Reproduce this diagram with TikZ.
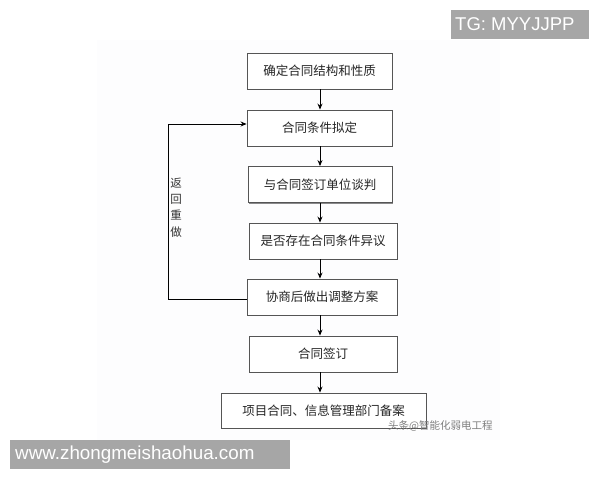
\documentclass[tikz,border=0pt]{standalone}
\usepackage{fontspec}
\setmainfont{Liberation Sans}
\newfontfamily\cjk{Noto Sans CJK SC}
\usetikzlibrary{shadows,arrows.meta}
\definecolor{bordergray}{HTML}{555555}
\definecolor{tagbg}{HTML}{A6A6A6}
\definecolor{faint}{HTML}{FDFDFE}
\tikzset{
  flowbox/.style={draw=bordergray, line width=0.9pt, fill=white, minimum height=36pt,
    inner sep=0pt, font=\cjk\fontsize{12.5}{14}\selectfont, text=black!85,
    drop shadow={shadow xshift=1.3pt, shadow yshift=-1.3pt, opacity=0.45, fill=black}},
  arr/.style={line width=0.8pt, -{Stealth[length=6pt,width=5pt]}},
  tag/.style={fill=tagbg, text=white, inner sep=0pt, anchor=north west},
}
\begin{document}
\begin{tikzpicture}[x=1pt,y=-1pt]
\useasboundingbox (0,0) rectangle (600,480);
\fill[faint] (97,40) rectangle (500,440);
\node[flowbox, minimum width=145pt] (b1) at (319.5,71) {确定合同结构和性质};
\node[flowbox, minimum width=145pt] (b2) at (319.5,128) {合同条件拟定};
\node[flowbox, minimum width=144pt] (b3) at (320,184.5) {与合同签订单位谈判};
\node[flowbox, minimum width=148pt] (b4) at (323,241) {是否存在合同条件异议};
\node[flowbox, minimum width=150pt] (b5) at (322,297) {协商后做出调整方案};
\node[flowbox, minimum width=148pt] (b6) at (323,354) {合同签订};
\node[flowbox, minimum width=205pt, minimum height=35pt] (b7) at (323.5,410.5) {项目合同、信息管理部门备案};
\coordinate (ax) at (320,0);
\draw[arr] (b1.south -| ax) -- (b2.north -| ax);
\draw[arr] (b2.south -| ax) -- (b3.north -| ax);
\draw[arr] (b3.south -| ax) -- (b4.north -| ax);
\draw[arr] (b4.south -| ax) -- (b5.north -| ax);
\draw[arr] (b5.south -| ax) -- (b6.north -| ax);
\draw[arr] (b6.south -| ax) -- (b7.north -| ax);
\coordinate (lp) at (168,299);
\coordinate (tp) at (168,124);
\draw[arr] (b5.west |- lp) -- (lp) -- (tp) -- (b2.west |- tp);
\node[font=\cjk\fontsize{11.5}{16.3}\selectfont, text=black!80, align=center, inner sep=0pt] (lbl) at (176,207.5) {返\\回\\重\\做};
\node[font=\cjk\fontsize{10.5}{12}\selectfont, text=black!50, inner sep=0pt, anchor=west] (wm) at (388,426) {头条@智能化弱电工程};
\node[tag, minimum width=138pt, minimum height=29pt] (tg) at (451,10) {};
\node[font=\fontsize{18.5}{20}\selectfont, text=white, anchor=west, inner sep=0pt] (tgt) at (455,24.5) {TG: MYYJJPP};
\node[tag, minimum width=280pt, minimum height=29pt] (web) at (10,440) {};
\node[font=\fontsize{18.8}{20}\selectfont, text=white, anchor=west, inner sep=0pt] (webt) at (15,454.5) {www.zhongmeishaohua.com};
\end{tikzpicture}
\end{document}
